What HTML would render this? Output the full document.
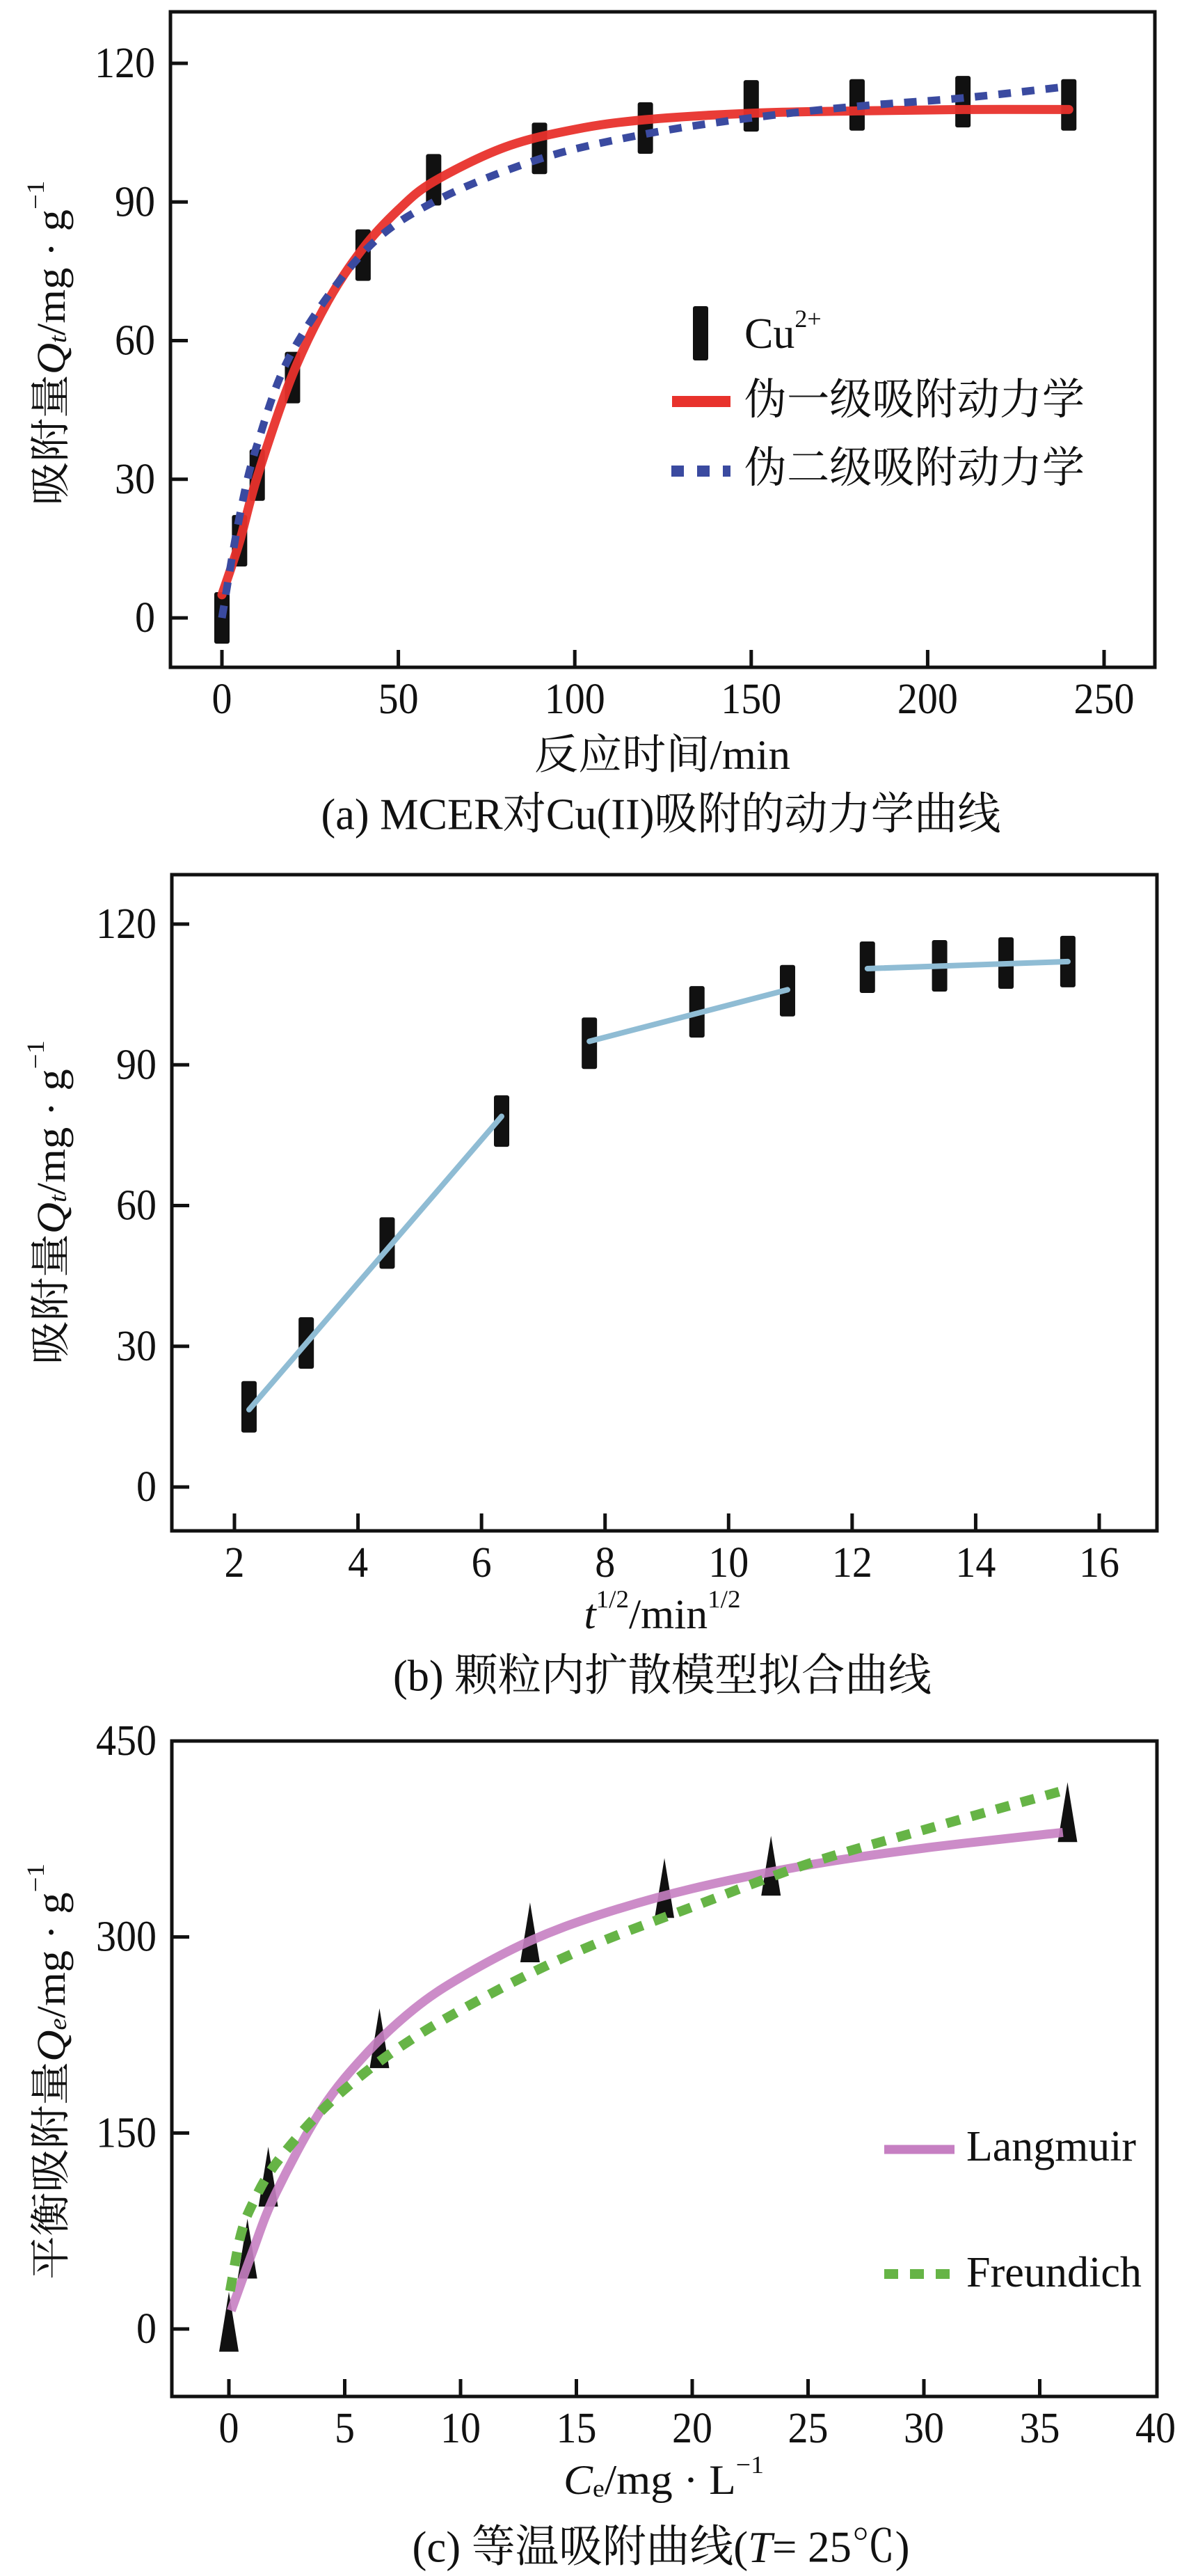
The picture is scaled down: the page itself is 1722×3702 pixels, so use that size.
<!DOCTYPE html>
<html><head><meta charset="utf-8">
<style>
html,body{margin:0;padding:0;background:#fff;}
svg{display:block;}
text{font-family:"Liberation Serif","Noto Serif CJK SC",serif;fill:#111;}
</style></head>
<body>
<svg id="fig" width="1722" height="3702" viewBox="0 0 1722 3702" xmlns="http://www.w3.org/2000/svg"></svg>
<script>
// ---------- Chart (a) data ----------
const aTimes = [0,5,10,20,40,60,90,120,150,180,210,240];
const aQt = [0,16.7,30.9,52,78.5,94.8,101.6,106,110.8,111,111.7,111];
const aPfoT = [0,5,10,20,30,40,50,60,80,100,120,150,180,210,240];
const aPfoQ = [5,16.5,30.5,52.6,68.5,80,88.3,94.4,101.8,105.7,107.8,109.2,109.7,110,110];
const aPsoT = [0,5,10,20,40,60,90,120,150,180,210,240];
const aPsoQ = [0,22,37.5,57.7,79,90,99.3,104.7,108.2,110.7,112.5,115];
const aXTicks = [0,50,100,150,200,250];
const aYTicks = [0,30,60,90,120];
// ---------- Chart (b) data ----------
const bSqrtT = [2.236,3.162,4.472,6.325,7.746,9.487,10.954,12.247,13.416,14.491,15.492];
const bQt = [17.1,30.7,52,78,94.6,101.3,105.8,110.8,111.1,111.7,112];
const bFitX1 = [2.236,6.325];
const bFitY1 = [16.5,79];
const bFitX2 = [7.746,10.954];
const bFitY2 = [95,106];
const bFitX3 = [12.247,15.492];
const bFitY3 = [110.5,112];
const bXTicks = [2,4,6,8,10,12,14,16];
const bYTicks = [0,30,60,90,120];
// ---------- Chart (c) data ----------
const cCe = [0,0.8,1.7,6.5,13,18.8,23.4,36.2];
const cQe = [5,61,116,222,303,337,354,395];
const cLangC = [0.1,1,2,4,6,8,10,13,16,20,25,30,36];
const cLangQ = [14,58,103,168,212,245,269,297,317,337,355,368,380];
const cFreuC = [0.05,0.5,1,2,4,6,8,10,13,16,20,25,30,36];
const cFreuQ = [29,71,95,126,167,198,223,244,272,296,323,356,382,412];
const cXTicks = [0,5,10,15,20,25,30,35,40];
const cYTicks = [0,150,300,450];

const NS='http://www.w3.org/2000/svg';
const svg=document.getElementById('fig');
function mk(tag,attrs,parent){const e=document.createElementNS(NS,tag);for(const k in attrs)e.setAttribute(k,attrs[k]);(parent||svg).appendChild(e);return e;}
function lin(d0,d1,r0,r1){return v=>r0+(v-d0)*(r1-r0)/(d1-d0);}
function poly(xs,ys,X,Y){return xs.map((v,i)=>X(v).toFixed(1)+','+Y(ys[i]).toFixed(1)).join(' ');}
function smooth(xs,ys,X,Y){
  const p=xs.map((v,i)=>[X(v),Y(ys[i])]);
  let d='M'+p[0][0].toFixed(1)+','+p[0][1].toFixed(1);
  for(let i=0;i<p.length-1;i++){
    const p0=p[i-1]||p[i],p1=p[i],p2=p[i+1],p3=p[i+2]||p2;
    const c1=[p1[0]+(p2[0]-p0[0])/6,p1[1]+(p2[1]-p0[1])/6];
    const c2=[p2[0]-(p3[0]-p1[0])/6,p2[1]-(p3[1]-p1[1])/6];
    d+=' C'+c1[0].toFixed(1)+','+c1[1].toFixed(1)+' '+c2[0].toFixed(1)+','+c2[1].toFixed(1)+' '+p2[0].toFixed(1)+','+p2[1].toFixed(1);
  }
  return d;
}

function frame(g,L,T,R,B,X,Y,xt,yt,xTickBottomLabelY){
  const fr=mk('rect',{x:L,y:T,width:R-L,height:B-T,fill:'none',stroke:'#111','stroke-width':5},g);
  
  
  xt.forEach(v=>{const x=X(v); if(x<R-3){
    const t=mk('line',{x1:x,y1:B,x2:x,y2:B-25,stroke:'#111','stroke-width':5},g);
    
    }
    const s=String(v);
    const lb=mk('text',{x:x,y:xTickBottomLabelY,'text-anchor':'middle','dominant-baseline':'central','font-size':62,textLength:29*s.length,lengthAdjust:'spacingAndGlyphs'},g);
    lb.textContent=s;
    
    
  });
  yt.forEach(v=>{const y=Y(v); if(y>T+3){
    const t=mk('line',{x1:L,y1:y,x2:L+25,y2:y,stroke:'#111','stroke-width':5},g);
    
    }
    const s=String(v);
    const lb=mk('text',{x:L-22,y:y,'text-anchor':'end','dominant-baseline':'central','font-size':62,textLength:29*s.length,lengthAdjust:'spacingAndGlyphs'},g);
    lb.textContent=s;
    
    
  });
}
function label(g,html,x,y,w,size,rot,name){
  const t=mk('text',{x:x,y:y,'text-anchor':'middle','dominant-baseline':'central','font-size':size,textLength:w,lengthAdjust:'spacingAndGlyphs'},g);
  if(rot) t.setAttribute('transform','rotate(-90 '+x+' '+y+')');
  t.innerHTML=html;
  
  
  return t;
}
function bar(g,x,y){const r=mk('rect',{x:x-11,y:y-37,width:22,height:74,rx:3,fill:'#111'},g);
  
  }

// ===== Chart (a) =====
(function(){
  const g=mk('g',{});
  
  
  const L=245,T=17,R=1660,B=959;
  const X=lin(0,250,319,1587), Y=lin(0,120,888,91);
  frame(g,L,T,R,B,X,Y,aXTicks,aYTicks,1005);
  aTimes.forEach((t,i)=>bar(g,X(t),Y(aQt[i])));
  const p1=mk('path',{d:smooth(aPfoT,aPfoQ,X,Y),fill:'none',stroke:'#e8322c','stroke-width':13,'stroke-linejoin':'round','stroke-linecap':'round',opacity:0.95},g);
  
  
  const p2=mk('path',{d:smooth(aPsoT,aPsoQ,X,Y),fill:'none',stroke:'#3a4aa0','stroke-width':11,'stroke-dasharray':'18 16'},g);
  
  
  const lg=mk('g',{},g);
  
  
  const lm=mk('rect',{x:996,y:440,width:22,height:78,rx:3,fill:'#111'},lg);
  
  
  const t1=mk('text',{x:1070,y:480,'dominant-baseline':'central','font-size':62},lg);
  t1.innerHTML='Cu<tspan font-size="36" dy="-22">2+</tspan>';
  
  
  const l1=mk('line',{x1:966,y1:577,x2:1050,y2:577,stroke:'#e8322c','stroke-width':16},lg);
  
  
  const t2=mk('text',{x:1070,y:575,'dominant-baseline':'central','font-size':62,textLength:489,lengthAdjust:'spacingAndGlyphs'},lg);
  t2.textContent='伪一级吸附动力学';
  
  
  const l2=mk('line',{x1:965,y1:677,x2:1050,y2:677,stroke:'#3a4aa0','stroke-width':16,'stroke-dasharray':'18 19'},lg);
  
  
  const t3=mk('text',{x:1070,y:673,'dominant-baseline':'central','font-size':62,textLength:489,lengthAdjust:'spacingAndGlyphs'},lg);
  t3.textContent='伪二级吸附动力学';
  
  
  label(g,'吸附量<tspan font-style="italic">Q</tspan><tspan font-style="italic" font-size="36" dy="10">t</tspan><tspan dy="-10">/mg · g</tspan><tspan font-size="36" dy="-22">−1</tspan>',73,493,467,58,true,'y-axis-title');
  label(g,'反应时间/min',952,1085,368,60,false,'x-axis-title');
  label(g,'(a) MCER对Cu(II)吸附的动力学曲线',950,1170,977,64,false,'caption-a');
})();

// ===== Chart (b) =====
(function(){
  const g=mk('g',{});
  
  
  const L=247,T=1257,R=1663,B=2200;
  const X=lin(2,16,337,1580), Y=lin(0,120,2137,1328);
  frame(g,L,T,R,B,X,Y,bXTicks,bYTicks,2246);
  bSqrtT.forEach((t,i)=>bar(g,X(t),Y(bQt[i])));
  [[bFitX1,bFitY1],[bFitX2,bFitY2],[bFitX3,bFitY3]].forEach((s,k)=>{
    const l=mk('polyline',{points:poly(s[0],s[1],X,Y),fill:'none',stroke:'#8fbcd4','stroke-width':8,'stroke-linecap':'round'},g);
    
    
  });
  label(g,'吸附量<tspan font-style="italic">Q</tspan><tspan font-style="italic" font-size="36" dy="10">t</tspan><tspan dy="-10">/mg · g</tspan><tspan font-size="36" dy="-22">−1</tspan>',73,1728,466,58,true,'y-axis-title');
  label(g,'<tspan font-style="italic">t</tspan><tspan font-size="36" dy="-22">1/2</tspan><tspan dy="22">/min</tspan><tspan font-size="36" dy="-22">1/2</tspan>',952,2320,225,60,false,'x-axis-title');
  label(g,'(b) 颗粒内扩散模型拟合曲线',952,2408,774,64,false,'caption-b');
})();

// ===== Chart (c) =====
(function(){
  const g=mk('g',{});
  
  
  const L=247,T=2502,R=1663,B=3444;
  const X=lin(0,40,329,1661), Y=lin(0,450,3347,2502);
  frame(g,L,T,R,B,X,Y,cXTicks,cYTicks,3490);
  cCe.forEach((c,i)=>{const x=X(c),y=Y(cQe[i]);
    const p=mk('polygon',{points:(x)+','+(y-44)+' '+(x-14)+','+(y+42)+' '+(x+14)+','+(y+42),fill:'#111'},g);
    
    });
  const lang=mk('path',{d:smooth(cLangC,cLangQ,X,Y),fill:'none',stroke:'#c67fc2','stroke-width':13,'stroke-linejoin':'round',opacity:0.9},g);
  
  
  const fr=mk('path',{d:smooth(cFreuC,cFreuQ,X,Y),fill:'none',stroke:'#66b446','stroke-width':14,'stroke-dasharray':'20 17'},g);
  
  
  const lg=mk('g',{},g);
  
  
  const s1=mk('line',{x1:1271,y1:3089,x2:1372,y2:3089,stroke:'#c67fc2','stroke-width':13},lg);
  
  
  const t1=mk('text',{x:1389,y:3085,'dominant-baseline':'central','font-size':62,textLength:244,lengthAdjust:'spacingAndGlyphs'},lg);
  t1.textContent='Langmuir';
  
  
  const s2=mk('line',{x1:1271,y1:3268,x2:1372,y2:3268,stroke:'#66b446','stroke-width':14,'stroke-dasharray':'20 17'},lg);
  
  
  const t2=mk('text',{x:1389,y:3266,'dominant-baseline':'central','font-size':62,textLength:252,lengthAdjust:'spacingAndGlyphs'},lg);
  t2.textContent='Freundich';
  
  
  label(g,'平衡吸附量<tspan font-style="italic">Q</tspan><tspan font-style="italic" font-size="36" dy="10">e</tspan><tspan dy="-10">/mg · g</tspan><tspan font-size="36" dy="-22">−1</tspan>',73,2977,598,58,true,'y-axis-title');
  label(g,'<tspan font-style="italic">C</tspan><tspan font-size="36" dy="12">e</tspan><tspan dy="-12">/mg · L</tspan><tspan font-size="36" dy="-22">−1</tspan>',954,3564,288,60,false,'x-axis-title');
  label(g,'(c) 等温吸附曲线(<tspan font-style="italic">T</tspan>= 25℃)',950,3660,715,64,false,'caption-c');
})();
</script>
</body></html>
